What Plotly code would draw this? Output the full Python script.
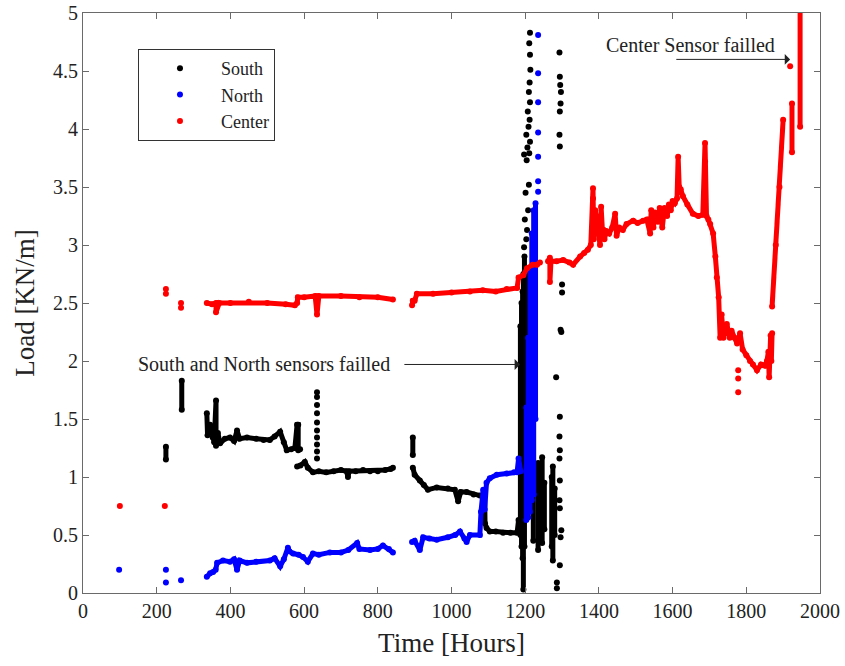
import plotly.graph_objects as go

# ---------------- South (black) ----------------
south_t_225 = [225, 225]
south_v_225 = [1.15, 1.26]
south_t_268 = [268, 268]
south_v_268 = [1.58, 1.83]
south_t_main1 = [336, 338, 345, 352, 356, 361, 361, 366, 372, 385, 399, 410, 418, 425, 445, 470, 490, 507, 520, 535, 545, 553, 565, 575, 581, 584, 584, 589]
south_v_main1 = [1.55, 1.36, 1.45, 1.34, 1.30, 1.66, 1.27, 1.38, 1.29, 1.33, 1.34, 1.31, 1.40, 1.33, 1.34, 1.33, 1.32, 1.32, 1.35, 1.39, 1.30, 1.23, 1.24, 1.25, 1.45, 1.45, 1.23, 1.24]
south_t_main2 = [581, 590, 602, 610, 624, 640, 660, 680, 700, 715, 719, 722, 740, 760, 779, 800, 820, 835, 841]
south_v_main2 = [1.09, 1.10, 1.13, 1.08, 1.04, 1.05, 1.04, 1.05, 1.06, 1.05, 1.00, 1.05, 1.05, 1.06, 1.05, 1.05, 1.06, 1.07, 1.08]
south_t_895 = [895, 895]
south_v_895 = [1.19, 1.34]
south_t_main3 = [895, 900, 914, 925, 936, 960, 990, 1009, 1018, 1025, 1041, 1060, 1077, 1090, 1091, 1095, 1104, 1120, 1140, 1160, 1178, 1182, 1188]
south_v_main3 = [1.08, 1.02, 0.97, 0.93, 0.89, 0.91, 0.90, 0.89, 0.79, 0.87, 0.87, 0.85, 0.84, 0.84, 0.60, 0.56, 0.53, 0.53, 0.52, 0.52, 0.52, 0.63, 0.55]
south_band_t = [1187, 1190, 1193, 1195, 1198, 1201, 1204, 1207]
south_band_lo = [0.50, 0.40, 0.30, 0.03, 0.40, 0.70, 0.90, 1.30]
south_band_hi = [2.30, 2.50, 2.60, 2.75, 2.90, 2.80, 2.70, 2.50]
south_col_t = [1222, 1235, 1240, 1246, 1252, 1272, 1275, 1280]
south_col_lo = [0.45, 0.37, 0.50, 0.43, 0.55, 0.40, 0.28, 0.50]
south_col_hi = [0.95, 1.12, 1.00, 1.17, 0.95, 1.00, 1.09, 0.90]
south_dot_t = [635, 635, 635, 635, 635, 635, 635, 635, 635, 635,
               1197, 1203, 1205, 1199, 1208, 1201, 1210, 1204, 1197, 1211, 1206, 1213, 1203,
               1209, 1212, 1207, 1213, 1210, 1212, 1214, 1213, 1211, 1213,
               1294, 1296, 1298, 1294, 1293, 1294, 1293, 1294, 1293, 1294, 1284, 1298, 1296,
               1300, 1300, 1294, 1293, 1294, 1296, 1297, 1295, 1294, 1293, 1286, 1286]
south_dot_v = [1.73, 1.69, 1.62, 1.55, 1.47, 1.40, 1.34, 1.28, 1.22, 1.16,
               2.98, 3.05, 3.13, 3.22, 3.30, 3.45, 3.52, 3.73, 3.78, 3.79, 3.84, 3.89, 3.95,
               4.02, 4.08, 4.15, 4.23, 4.32, 4.40, 4.51, 4.64, 4.74, 4.83,
               0.24, 0.48, 0.54, 0.73, 0.80, 0.97, 1.16, 1.23, 1.35, 1.52, 1.86, 2.25, 2.27,
               2.59, 2.66, 3.85, 3.95, 4.15, 4.22, 4.32, 4.38, 4.45, 4.66, 0.04, 0.09]

# ---------------- North (blue) ----------------
north_t_main1 = [336, 345, 353, 360, 364, 380, 399, 410, 418, 425, 445, 470, 507, 520, 535, 545, 556, 560, 570, 585, 597, 610, 624, 640, 670, 700, 720, 744, 750, 779, 800, 814, 830, 841]
north_v_main1 = [0.14, 0.17, 0.18, 0.20, 0.26, 0.28, 0.27, 0.29, 0.20, 0.28, 0.26, 0.27, 0.28, 0.30, 0.23, 0.29, 0.39, 0.36, 0.34, 0.33, 0.31, 0.27, 0.34, 0.33, 0.35, 0.35, 0.37, 0.43, 0.38, 0.37, 0.38, 0.41, 0.38, 0.35]
north_t_main2 = [893, 900, 914, 923, 940, 960, 990, 1010, 1023, 1035, 1041, 1050, 1077, 1080, 1086, 1090, 1095, 1104, 1123, 1150, 1170, 1178, 1182, 1188]
north_v_main2 = [0.44, 0.45, 0.37, 0.48, 0.47, 0.46, 0.48, 0.50, 0.53, 0.47, 0.44, 0.50, 0.50, 0.70, 0.89, 0.72, 0.95, 0.99, 1.02, 1.03, 1.04, 1.04, 1.16, 1.05]
north_band_t = [1203, 1208, 1213, 1218, 1223, 1228]
north_band_lo = [0.63, 0.65, 0.70, 0.80, 0.85, 1.50]
north_band_hi = [1.60, 2.20, 2.80, 3.10, 3.30, 3.36]
north_dot_t = [98, 225, 225, 266, 1235, 1235, 1235, 1235, 1235, 1235, 1235]
north_dot_v = [0.20, 0.20, 0.09, 0.11, 3.46, 3.55, 3.76, 3.97, 4.23, 4.48, 4.81]

# ---------------- Center (red) ----------------
center_t_1 = [336, 350, 361, 361, 370, 400, 450, 500, 550, 575, 581, 583, 600, 630, 635, 638, 640, 700, 750, 800, 841]
center_v_1 = [2.50, 2.49, 2.50, 2.42, 2.50, 2.50, 2.51, 2.50, 2.49, 2.48, 2.50, 2.55, 2.55, 2.56, 2.40, 2.55, 2.56, 2.56, 2.55, 2.55, 2.53]
center_t_2 = [893, 895, 900, 906, 950, 1000, 1050, 1085, 1120, 1150, 1178, 1182, 1195, 1205, 1220, 1232, 1240]
center_v_2 = [2.48, 2.52, 2.52, 2.58, 2.58, 2.59, 2.60, 2.61, 2.60, 2.62, 2.63, 2.72, 2.74, 2.80, 2.83, 2.83, 2.85]
center_t_3 = [1262, 1267, 1267, 1270, 1285, 1303, 1320, 1330, 1349, 1360, 1370, 1378, 1384, 1386, 1390, 1398, 1403, 1406, 1410, 1415, 1420, 1428, 1436, 1444, 1448, 1455, 1465, 1475, 1493, 1505, 1520, 1530, 1539, 1542, 1548, 1552, 1560, 1565, 1572, 1578, 1585, 1590, 1595, 1600, 1606, 1612, 1615, 1618, 1622, 1628, 1640, 1655, 1670, 1682, 1688, 1692, 1697, 1702, 1710, 1716, 1720, 1725, 1729, 1733, 1738, 1747, 1755, 1760, 1768, 1775, 1783, 1790, 1800, 1810, 1818, 1829, 1840, 1850, 1856, 1860, 1862, 1866, 1868, 1870]
center_v_3 = [2.86, 2.89, 2.68, 2.86, 2.86, 2.87, 2.85, 2.83, 2.90, 2.93, 2.96, 3.00, 3.49, 3.05, 3.30, 3.13, 3.00, 3.33, 3.10, 3.05, 3.12, 3.10, 3.15, 3.27, 3.08, 3.15, 3.13, 3.18, 3.21, 3.19, 3.21, 3.22, 3.10, 3.30, 3.15, 3.28, 3.20, 3.32, 3.15, 3.32, 3.25, 3.35, 3.30, 3.38, 3.36, 3.40, 3.76, 3.50, 3.48, 3.42, 3.35, 3.27, 3.25, 3.26, 3.88, 3.25, 3.22, 3.18, 3.10, 2.90, 2.72, 2.55, 2.20, 2.40, 2.20, 2.32, 2.20, 2.26, 2.20, 2.15, 2.24, 2.10, 2.05, 2.00, 1.97, 1.92, 1.97, 1.96, 2.00, 2.08, 1.86, 2.22, 2.00, 2.24]
center_t_4 = [1870, 1880, 1890, 1900]
center_v_4 = [2.47, 3.00, 3.50, 4.08]
center_t_5 = [1924, 1924]
center_v_5 = [3.80, 4.22]
center_t_6 = [1946, 1946]
center_v_6 = [4.02, 5.20]
center_dot_t = [100, 222, 225, 225, 266, 266, 1919, 1778, 1778, 1778, 1688, 1688, 1688, 1384, 1384]
center_dot_v = [0.75, 0.75, 2.58, 2.62, 2.46, 2.50, 4.54, 1.73, 1.85, 1.92, 3.72, 3.62, 3.52, 3.40, 3.30]

FONT = "Liberation Serif"


def join(segs):
    xs, ys = [], []
    for t, v in segs:
        xs += list(t) + [None]
        ys += list(v) + [None]
    return xs, ys


def verticals(ts, los, his):
    return [([t, t], [lo, hi]) for t, lo, hi in zip(ts, los, his)]


fig = go.Figure()

# legend-only entries
for name, col in [("South", "black"), ("North", "blue"), ("Center", "red")]:
    fig.add_trace(go.Scatter(x=[None], y=[None], mode="markers", name=name,
                             marker=dict(color=col, size=6)))

south_segs = [(south_t_225, south_v_225), (south_t_268, south_v_268),
              (south_t_main1, south_v_main1), (south_t_main2, south_v_main2),
              (south_t_895, south_v_895), (south_t_main3, south_v_main3)]
south_segs += verticals(south_band_t, south_band_lo, south_band_hi)
south_segs += verticals(south_col_t, south_col_lo, south_col_hi)

north_segs = [(north_t_main1, north_v_main1), (north_t_main2, north_v_main2)]
north_segs += verticals(north_band_t, north_band_lo, north_band_hi)

center_segs = [(center_t_1, center_v_1), (center_t_2, center_v_2), (center_t_3, center_v_3),
               (center_t_4, center_v_4), (center_t_5, center_v_5), (center_t_6, center_v_6)]

for segs, dt, dv, col in [(south_segs, south_dot_t, south_dot_v, "black"),
                          (north_segs, north_dot_t, north_dot_v, "blue"),
                          (center_segs, center_dot_t, center_dot_v, "red")]:
    xs, ys = join(segs)
    fig.add_trace(go.Scatter(x=xs, y=ys, mode="lines+markers", showlegend=False,
                             line=dict(color=col, width=5),
                             marker=dict(color=col, size=6), hoverinfo="skip"))
    fig.add_trace(go.Scatter(x=dt, y=dv, mode="markers", showlegend=False,
                             marker=dict(color=col, size=6), hoverinfo="skip"))

axis_common = dict(showline=True, linecolor="#6a6a6a", linewidth=1, mirror="ticks",
                   ticks="inside", ticklen=6, tickcolor="#6a6a6a", showgrid=False,
                   zeroline=False, automargin=False,
                   tickfont=dict(family=FONT, size=20, color="#222"))

fig.update_layout(
    width=845, height=666,
    margin=dict(l=83, r=25, t=13, b=73),
    paper_bgcolor="white", plot_bgcolor="white",
    font=dict(family=FONT, color="#222"),
    xaxis=dict(range=[0, 2000], dtick=200, tick0=0,
               title=dict(text="Time [Hours]", font=dict(family=FONT, size=27), standoff=12),
               **axis_common),
    yaxis=dict(range=[0, 5], dtick=0.5, tick0=0,
               title=dict(text="Load [KN/m]", font=dict(family=FONT, size=27), standoff=10),
               **axis_common),
    legend=dict(x=0.0746, y=0.938, xanchor="left", yanchor="top",
                bordercolor="#333", borderwidth=1, bgcolor="white",
                itemwidth=72, font=dict(family=FONT, size=18, color="#222")),
    annotations=[
        dict(x=838, y=1.97, xref="x", yref="y", text="South and North sensors failled",
             showarrow=False, xanchor="right", yanchor="middle",
             font=dict(family=FONT, size=20, color="#222")),
        dict(x=1186, y=1.97, ax=868, ay=1.97, xref="x", yref="y", axref="x", ayref="y",
             text="", showarrow=True, arrowhead=1, arrowsize=1.8, arrowwidth=1,
             arrowcolor="#222"),
        dict(x=1414, y=4.72, xref="x", yref="y", text="Center Sensor failled",
             showarrow=False, xanchor="left", yanchor="middle",
             font=dict(family=FONT, size=20, color="#222")),
        dict(x=1919, y=4.60, ax=1606, ay=4.60, xref="x", yref="y", axref="x", ayref="y",
             text="", showarrow=True, arrowhead=1, arrowsize=1.8, arrowwidth=1,
             arrowcolor="#222"),
    ],
)

fig.write_html("out.html")
